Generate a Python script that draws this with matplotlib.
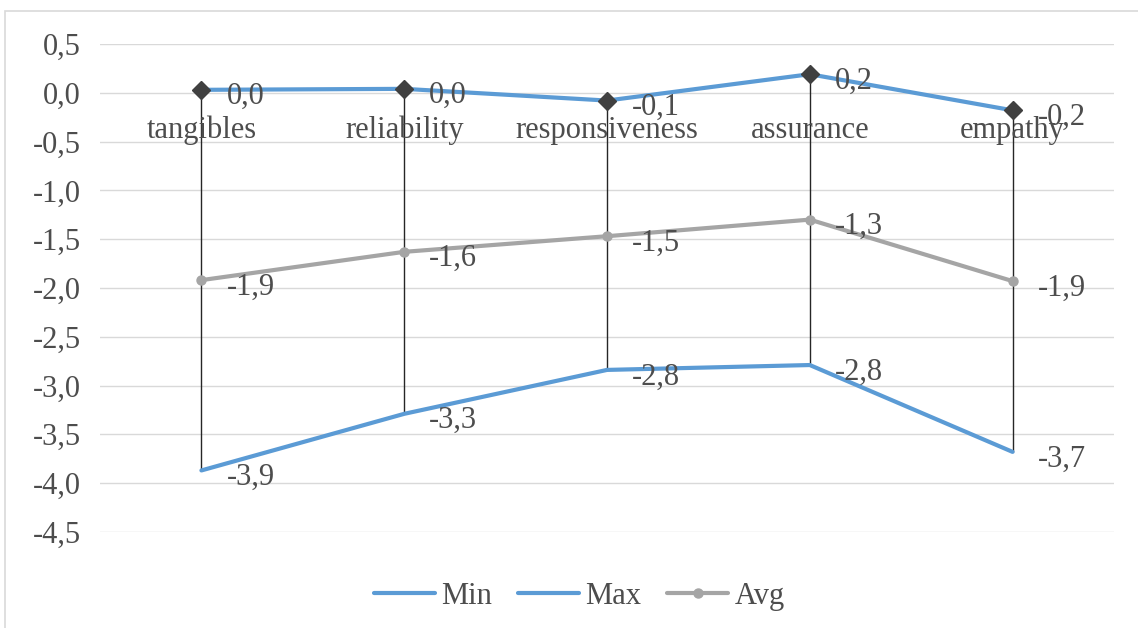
import matplotlib.pyplot as plt
from matplotlib.lines import Line2D
from matplotlib.patches import Rectangle

categories = ['tangibles', 'reliability', 'responsiveness', 'assurance', 'empathy']
min_values = [-3.87, -3.29, -2.84, -2.79, -3.68]
max_values = [0.03, 0.04, -0.08, 0.19, -0.18]
avg_values = [-1.92, -1.63, -1.47, -1.30, -1.93]
y_ticks = [0.5, 0.0, -0.5, -1.0, -1.5, -2.0, -2.5, -3.0, -3.5, -4.0, -4.5]

BLUE = '#5b9bd5'
GRAY = '#a5a5a5'
TEXT = '#4d4d4d'
FS = 22

plt.rcParams['font.family'] = ['Liberation Serif', 'DejaVu Serif']

fig = plt.figure(figsize=(11.38, 6.28), dpi=100)
ax = fig.add_axes([0.0879, 0.153, 0.891, 0.777])

# chart border (only the top and left edges fall inside the image)
fig.patches.append(Rectangle((0.0044, -0.05), 1.1, 1.0325, transform=fig.transFigure,
                             fill=False, edgecolor='#d9d9d9', linewidth=1.2))

x = list(range(len(categories)))

for y in y_ticks:
    ax.axhline(y, color='#d9d9d9', linewidth=1, zorder=0)

# high-low lines
ax.vlines(x, min_values, max_values, color='#262626', linewidth=1, zorder=1)

ax.plot(x, min_values, color=BLUE, linewidth=3, solid_capstyle='round', zorder=2)
ax.plot(x, max_values, color=BLUE, linewidth=3, solid_capstyle='round', zorder=2,
        marker='D', markersize=9, markerfacecolor='#404040', markeredgecolor='#404040')
ax.plot(x, avg_values, color=GRAY, linewidth=3, solid_capstyle='round', zorder=2,
        marker='o', markersize=6.5, markerfacecolor=GRAY, markeredgecolor=GRAY)

def fmt(v):
    return f'{v:.1f}'.replace('.', ',').replace('-0,0', '0,0')

for series in (min_values, max_values, avg_values):
    for xi, v in zip(x, series):
        ax.annotate(fmt(v), (xi, v), xytext=(18, -5), textcoords='offset points',
                    ha='left', va='center', fontsize=FS, color=TEXT)

# category labels sit just under the zero line
for xi, cat in zip(x, categories):
    ax.annotate(cat, (xi, 0), xytext=(0, -27), textcoords='offset points',
                ha='center', va='center', fontsize=FS, color=TEXT)

ax.set_xlim(-0.5, 4.5)
ax.set_ylim(-4.5, 0.5)
ax.set_yticks(y_ticks)
ax.set_yticklabels([fmt(v) for v in y_ticks], fontsize=FS, color=TEXT)
ax.tick_params(axis='y', length=0, pad=14)
ax.set_xticks([])
for s in ax.spines.values():
    s.set_visible(False)

handles = [
    Line2D([], [], color=BLUE, linewidth=3, solid_capstyle='round'),
    Line2D([], [], color=BLUE, linewidth=3, solid_capstyle='round'),
    Line2D([], [], color=GRAY, linewidth=3, solid_capstyle='round', marker='o', markersize=6.5),
]
fig.legend(handles, ['Min', 'Max', 'Avg'], loc='center', bbox_to_anchor=(0.509, 0.05),
           ncol=3, frameon=False, fontsize=FS, labelcolor=TEXT, handlelength=2.0,
           columnspacing=0.85, handletextpad=0.2)

plt.savefig('out.png', dpi=100)
